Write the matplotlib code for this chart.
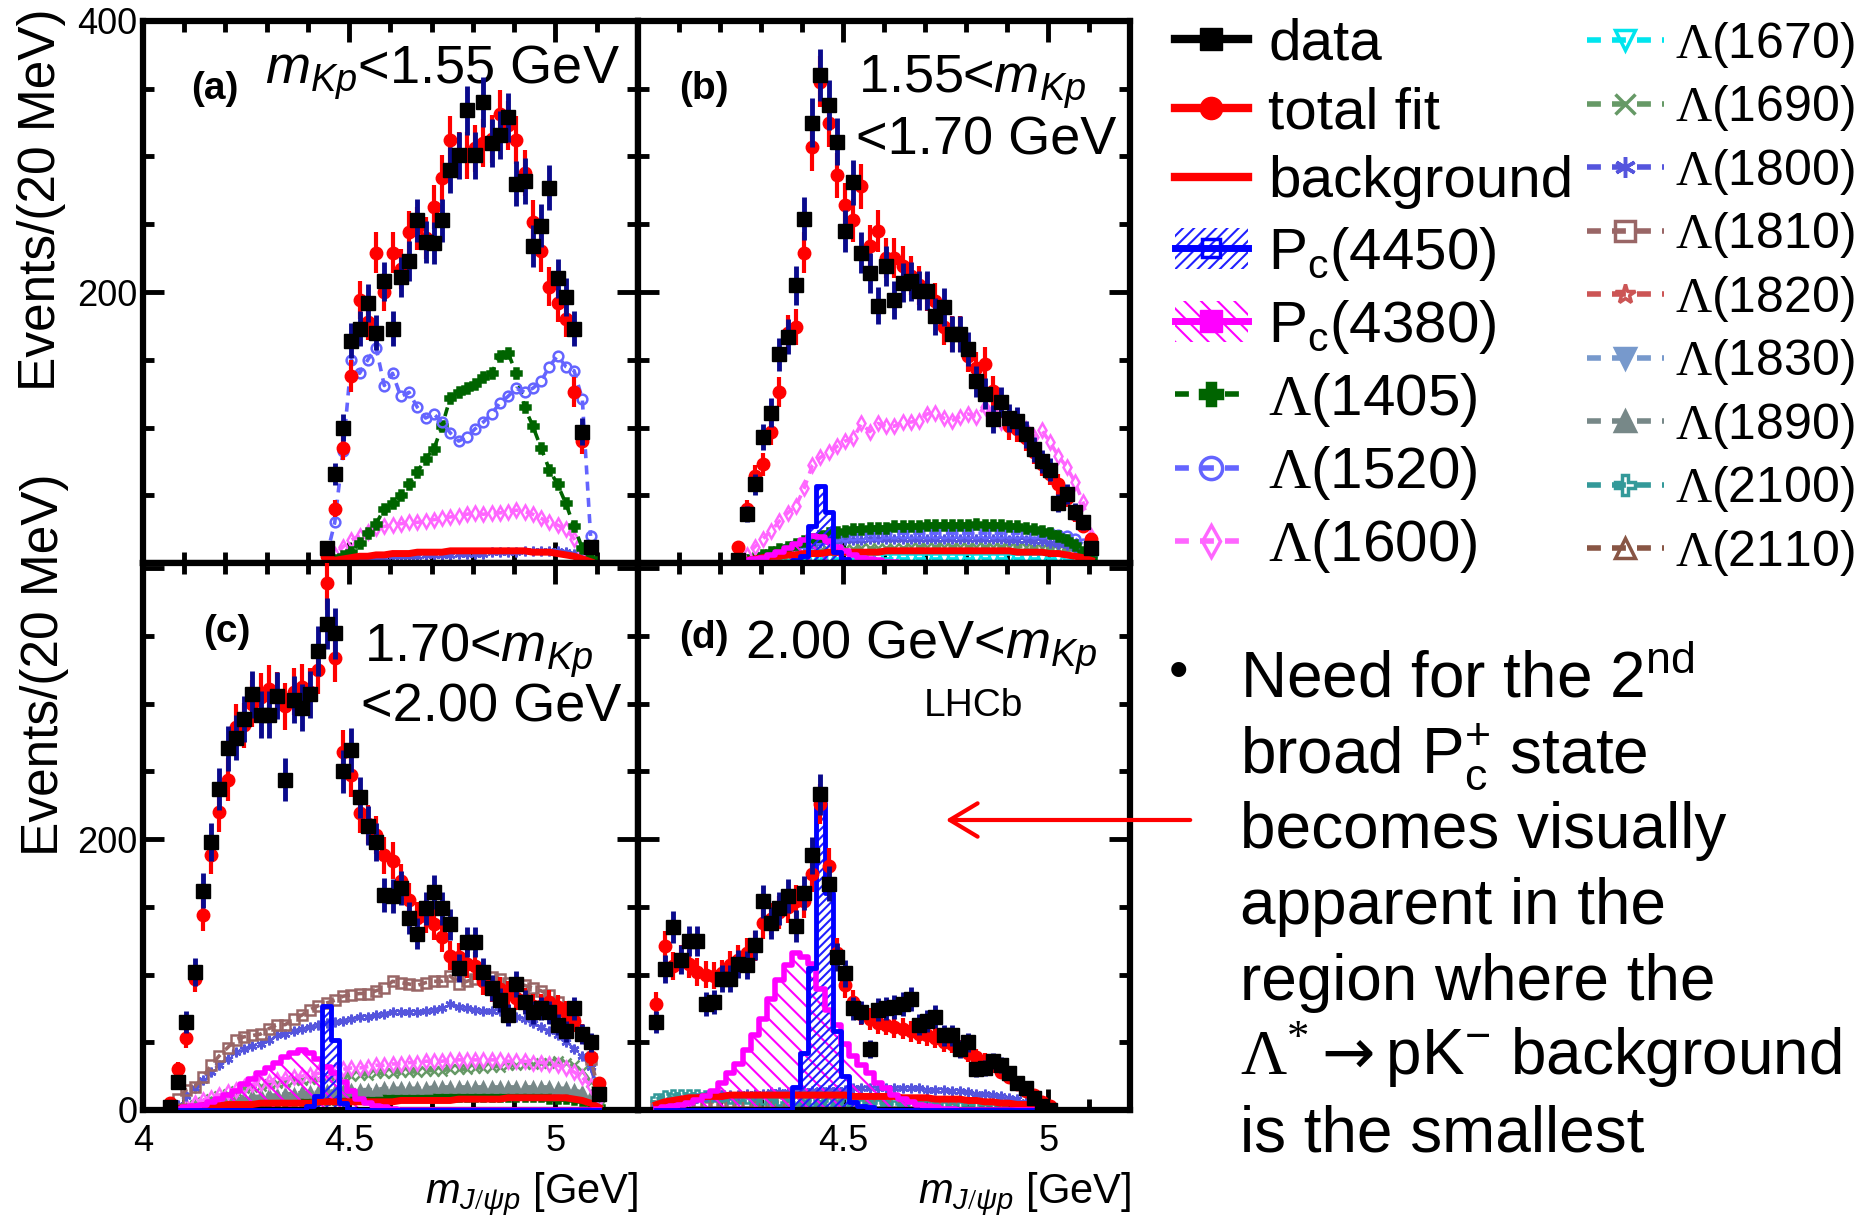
import numpy as np
import matplotlib
matplotlib.use('Agg')
import matplotlib.pyplot as plt
from matplotlib.lines import Line2D
from matplotlib.patches import Patch, FancyArrowPatch
from matplotlib.ticker import MultipleLocator

plt.rcParams['font.family'] = ['Liberation Sans', 'DejaVu Sans']
plt.rcParams['mathtext.fontset'] = 'custom'
plt.rcParams['mathtext.rm'] = 'Liberation Serif'
plt.rcParams['mathtext.it'] = 'Liberation Sans:italic'
plt.rcParams['mathtext.bf'] = 'Liberation Sans:bold'
plt.rcParams['mathtext.sf'] = 'DejaVu Sans'
plt.rcParams['hatch.linewidth'] = 1.5

BIN = 0.02  # 20 MeV bins

# ---- panel (a): m_Kp < 1.55 GeV, first bin centre 4.445 GeV
a_x0 = 4.445
a_data = [11, 66, 100, 164, 173, 192, 170, 208, 173, 211,
          223, 253, 237, 236, 253, 290, 301, 334, 301, 340,
          310, 316, 329, 280, 282, 234, 249, 277, 210, 196,
          173, 97, 12]
a_fit = [5, 40, 85, 138, 194, 178, 229, 200, 229, 217,
         244, 247, 240, 263, 284, 312, 301, 301, 306, 310,
         313, 331, 323, 312, 288, 252, 230, 204, 192, 180,
         126, 90, 12]
a_bkg = [1, 2, 3, 4, 5, 5, 6, 6, 7, 7,
         7, 8, 8, 8, 8, 9, 9, 9, 9, 9,
         9, 9, 9, 9, 9, 8, 8, 8, 7, 6,
         5, 3, 1]
a_L1405 = [0, 2, 5, 8, 15, 22, 29, 40, 44, 50,
           58, 67, 77, 84, 101, 122, 126, 129, 132, 137,
           140, 153, 155, 140, 115, 101, 85, 69, 58, 44,
           27, 11, 3]
a_L1520 = [5, 30, 83, 150, 140, 150, 159, 131, 140, 123,
           126, 115, 107, 110, 104, 96, 90, 93, 99, 104,
           110, 118, 123, 129, 126, 129, 134, 145, 153, 145,
           142, 121, 20]
a_L1600 = [2, 6, 12, 17, 20, 23, 26, 27, 28, 29,
           30, 30, 31, 32, 33, 34, 35, 36, 37, 36,
           37, 37, 38, 39, 38, 36, 33, 30, 28, 25,
           18, 8, 2]
a_L1800 = [0, 1, 2, 3, 3, 4, 4, 4, 5, 5,
           5, 5, 6, 6, 6, 6, 7, 7, 7, 7,
           8, 8, 8, 8, 9, 9, 9, 9, 9, 8,
           7, 5, 2]

# ---- panel (b): 1.55 < m_Kp < 1.70 GeV, first bin centre 4.245 GeV
b_x0 = 4.245
b_data = [2, 36, 58, 93, 111, 154, 167, 205, 254, 325,
          360, 338, 311, 245, 281, 229, 214, 190, 219, 194,
          207, 208, 201, 201, 182, 189, 169, 169, 158, 134,
          125, 106, 119, 107, 105, 95, 84, 75, 69, 44,
          51, 38, 30, 11]
b_fit = [12, 40, 64, 73, 97, 126, 170, 174, 229, 307,
         355, 325, 286, 264, 253, 278, 234, 245, 225, 225,
         219, 212, 205, 200, 193, 174, 169, 169, 153, 144,
         147, 127, 118, 101, 99, 92, 82, 73, 66, 58,
         48, 36, 27, 18]
b_bkg = [1, 2, 3, 4, 5, 5, 6, 6, 7, 7,
         7, 8, 8, 8, 8, 8, 8, 8, 9, 9,
         9, 9, 9, 9, 9, 9, 9, 9, 9, 9,
         9, 9, 9, 9, 8, 8, 8, 8, 7, 7,
         6, 5, 4, 2]
b_Pc4450 = [0, 0, 0, 0, 0, 0, 0, 2, 5, 27,
            57, 38, 8, 3, 1, 0, 0, 0, 0, 0,
            0, 0, 0, 0, 0, 0, 0, 0, 0, 0,
            0, 0, 0, 0, 0, 0, 0, 0, 0, 0,
            0, 0, 0, 0]
b_Pc4380 = [1, 2, 3, 4, 6, 8, 11, 14, 17, 20,
            19, 16, 12, 9, 6, 4, 3, 2, 1, 1,
            0, 0, 0, 0, 0, 0, 0, 0, 0, 0,
            0, 0, 0, 0, 0, 0, 0, 0, 0, 0,
            0, 0, 0, 0]
b_L1405 = [1, 2, 4, 6, 8, 10, 12, 14, 16, 18,
           20, 22, 23, 24, 25, 25, 26, 26, 26, 27,
           27, 27, 27, 28, 28, 28, 28, 28, 28, 29,
           28, 28, 28, 27, 27, 26, 25, 24, 22, 20,
           17, 13, 8, 3]
b_L1520 = [1, 2, 3, 5, 7, 9, 11, 13, 15, 17,
           18, 19, 20, 20, 21, 21, 21, 21, 22, 22,
           22, 22, 22, 22, 22, 22, 22, 22, 22, 22,
           22, 22, 22, 22, 22, 22, 22, 22, 22, 21,
           20, 18, 14, 6]
b_L1600 = [3, 6, 12, 18, 24, 31, 37, 42, 55, 72,
           78, 82, 86, 90, 92, 103, 97, 103, 101, 101,
           104, 104, 105, 110, 111, 107, 105, 108, 110, 108,
           115, 112, 104, 101, 104, 99, 93, 98, 89, 79,
           71, 60, 45, 20]
b_L1670 = [0, 0, 1, 1, 1, 2, 2, 2, 2, 3,
           3, 3, 3, 3, 3, 3, 3, 3, 3, 3,
           3, 3, 3, 3, 3, 3, 3, 3, 3, 3,
           3, 3, 3, 3, 3, 3, 3, 3, 3, 3,
           2, 2, 1, 1]
b_L1690 = [0, 1, 1, 2, 3, 4, 5, 6, 7, 8,
           9, 9, 10, 10, 10, 11, 11, 11, 11, 11,
           11, 12, 12, 12, 12, 12, 12, 12, 12, 12,
           12, 12, 12, 12, 12, 12, 11, 11, 11, 10,
           9, 8, 6, 3]
b_L1800 = [1, 2, 3, 4, 6, 8, 10, 12, 13, 14,
           15, 16, 16, 17, 17, 17, 18, 18, 18, 18,
           18, 18, 18, 18, 18, 18, 18, 18, 18, 18,
           18, 18, 18, 17, 17, 17, 16, 16, 15, 14,
           13, 11, 8, 4]

# ---- panel (c): 1.70 < m_Kp < 2.00 GeV, first bin centre 4.065 GeV
c_x0 = 4.065
c_data = [2, 21, 65, 102, 162, 198, 237, 267, 275, 289,
          307, 292, 292, 306, 244, 303, 297, 307, 339, 359,
          352, 250, 266, 231, 210, 198, 159, 158, 164, 142,
          130, 149, 161, 149, 137, 105, 124, 124, 102, 90,
          81, 70, 93, 80, 72, 75, 72, 63, 58, 75,
          56, 50, 12]
c_fit = [5, 30, 53, 97, 144, 188, 220, 244, 283, 284,
         300, 305, 311, 306, 298, 309, 312, 309, 325, 389,
         334, 264, 247, 219, 211, 203, 188, 184, 169, 155,
         142, 143, 137, 128, 114, 113, 108, 106, 95, 89,
         89, 86, 83, 81, 77, 77, 80, 76, 72, 66,
         56, 39, 20]
c_bkg = [1, 1, 2, 2, 3, 3, 3, 4, 4, 4,
         4, 5, 5, 5, 5, 5, 5, 5, 6, 6,
         6, 6, 6, 6, 6, 6, 6, 6, 7, 7,
         7, 7, 7, 7, 7, 8, 8, 8, 8, 8,
         8, 9, 9, 9, 9, 9, 9, 9, 9, 8,
         7, 5, 2]
c_Pc4450 = [0, 0, 0, 0, 0, 0, 0, 0, 0, 0,
            0, 0, 0, 0, 0, 0, 0, 3, 10, 77,
            52, 5, 1, 0, 0, 0, 0, 0, 0, 0,
            0, 0, 0, 0, 0, 0, 0, 0, 0, 0,
            0, 0, 0, 0, 0, 0, 0, 0, 0, 0,
            0, 0, 0]
c_Pc4380 = [0, 1, 2, 3, 4, 6, 8, 11, 14, 19,
            23, 27, 31, 35, 39, 42, 44, 42, 38, 32,
            27, 21, 14, 8, 5, 3, 2, 1, 0, 0,
            0, 0, 0, 0, 0, 0, 0, 0, 0, 0,
            0, 0, 0, 0, 0, 0, 0, 0, 0, 0,
            0, 0, 0]
c_L1405 = [0, 0, 1, 1, 2, 2, 3, 3, 4, 4,
           5, 5, 6, 6, 6, 7, 7, 7, 8, 8,
           8, 8, 9, 9, 9, 9, 9, 10, 10, 10,
           10, 10, 10, 10, 10, 10, 10, 10, 10, 10,
           10, 10, 10, 10, 10, 10, 9, 9, 9, 8,
           7, 5, 2]
c_L1600 = [0, 1, 3, 5, 7, 9, 11, 13, 15, 17,
           19, 20, 21, 22, 23, 24, 25, 26, 27, 28,
           29, 30, 31, 31, 32, 33, 33, 34, 34, 35,
           35, 36, 36, 36, 37, 37, 37, 37, 37, 37,
           37, 36, 36, 36, 35, 35, 34, 33, 31, 28,
           24, 18, 8]
c_L1690 = [0, 1, 2, 4, 6, 8, 10, 12, 14, 16,
           17, 18, 19, 20, 21, 22, 22, 23, 23, 24,
           24, 25, 25, 26, 26, 27, 27, 27, 28, 28,
           28, 29, 29, 29, 30, 30, 30, 31, 31, 32,
           32, 33, 33, 34, 34, 35, 35, 36, 35, 33,
           29, 21, 9]
c_L1800 = [1, 4, 10, 16, 22, 28, 33, 38, 43, 45,
           47, 49, 52, 55, 56, 58, 60, 61, 63, 64,
           65, 66, 67, 69, 69, 70, 71, 72, 72, 72,
           72, 73, 74, 75, 78, 76, 75, 74, 73, 73,
           73, 71, 69, 67, 64, 61, 58, 55, 50, 45,
           40, 32, 12]
c_L1810 = [2, 8, 15, 17, 24, 33, 40, 46, 52, 54,
           55, 56, 60, 63, 63, 67, 70, 74, 77, 79,
           81, 84, 85, 86, 86, 88, 90, 95, 94, 93,
           92, 94, 95, 95, 99, 93, 95, 97, 100, 98,
           97, 94, 93, 92, 90, 88, 85, 80, 73, 65,
           55, 38, 14]
c_L1890 = [0, 1, 2, 3, 4, 5, 6, 7, 8, 9,
           10, 10, 11, 11, 12, 12, 13, 13, 13, 14,
           14, 14, 15, 15, 15, 15, 16, 16, 16, 16,
           16, 16, 17, 17, 17, 17, 17, 17, 17, 17,
           17, 17, 17, 17, 17, 17, 17, 16, 16, 15,
           13, 10, 4]

# ---- panel (d): m_Kp > 2.00 GeV, first bin centre 4.045 GeV
d_x0 = 4.045
d_data = [65, 104, 135, 111, 125, 125, 78, 80, 97, 97,
          108, 107, 122, 154, 138, 149, 158, 136, 160, 188,
          233, 167, 113, 101, 75, 72, 45, 74, 75, 76,
          78, 82, 63, 66, 69, 55, 55, 45, 50, 30,
          31, 36, 33, 27, 20, 16, 9, 3, 0]
d_fit = [78, 121, 106, 111, 108, 102, 100, 99, 101, 107,
         111, 116, 121, 138, 141, 146, 150, 154, 154, 174,
         226, 180, 116, 92, 80, 71, 67, 64, 63, 61,
         60, 58, 56, 55, 53, 50, 49, 45, 42, 39,
         36, 33, 28, 24, 19, 14, 11, 6, 3]
d_bkg = [4, 6, 7, 8, 9, 9, 10, 10, 10, 11,
         11, 11, 11, 11, 11, 11, 11, 11, 11, 11,
         11, 11, 11, 11, 10, 10, 10, 10, 10, 10,
         9, 9, 9, 9, 8, 8, 8, 8, 7, 7,
         6, 6, 5, 5, 4, 4, 3, 2, 1]
d_Pc4450 = [0, 0, 0, 0, 0, 0, 0, 0, 0, 0,
            0, 0, 0, 0, 0, 0, 0, 17, 42, 105,
            227, 160, 58, 25, 6, 3, 2, 0, 0, 0,
            0, 0, 0, 0, 0, 0, 0, 0, 0, 0,
            0, 0, 0, 0, 0, 0, 0, 0, 0]
d_Pc4380 = [1, 2, 3, 4, 5, 7, 10, 14, 20, 27,
            34, 44, 55, 67, 82, 96, 107, 116, 113, 108,
            89, 74, 63, 49, 40, 33, 27, 20, 16, 11,
            8, 6, 4, 3, 2, 1, 1, 0, 0, 0,
            0, 0, 0, 0, 0, 0, 0, 0, 0]
d_L1800 = [2, 4, 6, 7, 8, 9, 10, 10, 11, 11,
           11, 12, 12, 12, 13, 13, 13, 14, 14, 14,
           15, 15, 15, 15, 16, 16, 16, 16, 16, 16,
           16, 16, 16, 15, 15, 15, 14, 14, 13, 12,
           12, 11, 10, 9, 8, 6, 4, 2, 1]
d_L1810 = [3, 4, 5, 5, 5, 6, 6, 6, 6, 6,
           6, 6, 6, 6, 6, 6, 6, 6, 6, 6,
           6, 6, 6, 6, 6, 6, 6, 6, 6, 6,
           6, 6, 6, 6, 5, 5, 5, 5, 5, 5,
           4, 4, 4, 3, 3, 3, 2, 1, 0]
d_L2100 = [8, 10, 11, 11, 11, 11, 10, 10, 10, 9,
           9, 9, 8, 8, 8, 7, 7, 7, 6, 6,
           6, 5, 5, 5, 5, 4, 4, 4, 4, 3,
           3, 3, 3, 3, 2, 2, 2, 2, 2, 2,
           1, 1, 1, 1, 1, 1, 1, 0, 0]

# legend labels
col1_labels = ['data', 'total fit', 'background', 'P$_\\mathregular{c}$(4450)',
               'P$_\\mathregular{c}$(4380)', '$\\Lambda$(1405)', '$\\Lambda$(1520)',
               '$\\Lambda$(1600)']
col2_names = ['L1670', 'L1690', 'L1800', 'L1810', 'L1820', 'L1830', 'L1890', 'L2100', 'L2110']

# styles for the Lambda* components
comp_style = {
    'L1405': dict(color='#006400', marker='P', mfc='#006400'),
    'L1520': dict(color='#6464ff', marker='o', mfc='none'),
    'L1600': dict(color='#ff66ff', marker='d', mfc='none'),
    'L1670': dict(color='#00e5ee', marker='v', mfc='none'),
    'L1690': dict(color='#669966', marker='x', mfc='#669966'),
    'L1800': dict(color='#5555dd', marker=(6, 2, 0), mfc='#5555dd'),
    'L1810': dict(color='#996666', marker='s', mfc='none'),
    'L1820': dict(color='#cc5555', marker='*', mfc='none'),
    'L1830': dict(color='#7799cc', marker='v', mfc='#7799cc'),
    'L1890': dict(color='#778888', marker='^', mfc='#778888'),
    'L2100': dict(color='#339999', marker='P', mfc='none'),
    'L2110': dict(color='#885544', marker='^', mfc='none'),
}
DASH = (0, (2.5, 2))


def draw_panel(ax, x0, data, fit, bkg, comps, pc4450=None, pc4380=None):
    x = x0 + BIN * np.arange(len(data))
    for name, vals in comps:
        st = comp_style[name]
        ax.plot(x, vals, ls=DASH, lw=2.6, ms=7, mew=1.8, zorder=2, **st)
    ax.plot(x, bkg, color='red', lw=5, zorder=3)
    if pc4380 is not None:
        ax.fill_between(x, 0, pc4380, step='mid', facecolor='none', edgecolor='#ff00ff',
                        hatch='\\\\', lw=0, zorder=2)
        ax.step(x, pc4380, where='mid', color='#ff00ff', lw=4, zorder=3)
    if pc4450 is not None:
        ax.fill_between(x, 0, pc4450, step='mid', facecolor='none', edgecolor='#2020ff',
                        hatch='////', lw=0, zorder=2)
        ax.step(x, pc4450, where='mid', color='#0000ff', lw=3.5, zorder=3)
    ax.errorbar(x, fit, yerr=np.sqrt(fit), fmt='o', color='red', ecolor='red',
                ms=9, elinewidth=3, capsize=0, zorder=4)
    ax.errorbar(x, data, yerr=np.sqrt(data), fmt='s', color='black', ecolor='#0a0a8c',
                ms=10, elinewidth=3.5, capsize=0, zorder=5)


def style_axes(ax, ytop):
    ax.set_xlim(4.0, 5.2)
    ax.set_ylim(0, ytop)
    ax.set_xticks([4.0, 4.5, 5.0])
    ax.set_yticks([0, 200, 400])
    ax.xaxis.set_minor_locator(MultipleLocator(0.1))
    ax.yaxis.set_minor_locator(MultipleLocator(50))
    ax.tick_params(which='both', direction='in', top=True, right=True, width=3.5,
                   labelsize=26)
    ax.tick_params(which='major', length=15)
    ax.tick_params(which='minor', length=8)
    ax.tick_params(axis='x', pad=10)
    ax.tick_params(axis='y', pad=4)
    for sp in ax.spines.values():
        sp.set_linewidth(4.5)


fig = plt.figure(figsize=(18.71, 12.20), dpi=100)
L, W1, W2 = 0.0764, 0.2646, 0.2630
ax_a = fig.add_axes([L, 0.5385, W1, 0.4443])
ax_b = fig.add_axes([L + W1, 0.5385, W2, 0.4443])
ax_c = fig.add_axes([L, 0.0902, W1, 0.4484])
ax_d = fig.add_axes([L + W1, 0.0902, W2, 0.4484])

draw_panel(ax_a, a_x0, a_data, a_fit, a_bkg,
           [('L1800', a_L1800), ('L1600', a_L1600), ('L1405', a_L1405), ('L1520', a_L1520)])
draw_panel(ax_b, b_x0, b_data, b_fit, b_bkg,
           [('L1670', b_L1670), ('L1690', b_L1690), ('L1800', b_L1800), ('L1520', b_L1520),
            ('L1405', b_L1405), ('L1600', b_L1600)],
           pc4450=b_Pc4450, pc4380=b_Pc4380)
draw_panel(ax_c, c_x0, c_data, c_fit, c_bkg,
           [('L1405', c_L1405), ('L1890', c_L1890), ('L1690', c_L1690), ('L1600', c_L1600),
            ('L1800', c_L1800), ('L1810', c_L1810)],
           pc4450=c_Pc4450, pc4380=c_Pc4380)
draw_panel(ax_d, d_x0, d_data, d_fit, d_bkg,
           [('L1810', d_L1810), ('L2100', d_L2100), ('L1800', d_L1800)],
           pc4450=d_Pc4450, pc4380=d_Pc4380)

style_axes(ax_a, 400)
style_axes(ax_b, 400)
style_axes(ax_c, 404)
style_axes(ax_d, 404)
ax_a.set_yticklabels(['', '200', '400'])
ax_c.set_yticklabels(['0', '200', ''])
ax_a.tick_params(labelbottom=False)
ax_b.tick_params(labelbottom=False, labelleft=False)
ax_d.tick_params(labelleft=False)
ax_c.set_xticklabels(['4', '4.5', '5'])
ax_d.set_xticklabels(['', '4.5', '5'])

# panel annotations
tk = dict(fontsize=39, va='baseline')
lab = dict(fontsize=28, fontweight='bold', ha='center', va='center')
ax_a.text(0.145, 0.874, '(a)', transform=ax_a.transAxes, **lab)
ax_a.text(0.246, 0.885, '$m_{Kp}$<1.55 GeV', transform=ax_a.transAxes, **tk)
ax_b.text(0.133, 0.874, '(b)', transform=ax_b.transAxes, **lab)
ax_b.text(0.448, 0.868, '1.55<$m_{Kp}$', transform=ax_b.transAxes, **tk)
ax_b.text(0.443, 0.753, '<1.70 GeV', transform=ax_b.transAxes, **tk)
ax_c.text(0.169, 0.873, '(c)', transform=ax_c.transAxes, **lab)
ax_c.text(0.446, 0.819, '1.70<$m_{Kp}$', transform=ax_c.transAxes, **tk)
ax_c.text(0.441, 0.710, '<2.00 GeV', transform=ax_c.transAxes, **tk)
ax_d.text(0.133, 0.862, '(d)', transform=ax_d.transAxes, **lab)
ax_d.text(0.218, 0.825, '2.00 GeV<$m_{Kp}$', transform=ax_d.transAxes, **tk)
ax_d.text(0.581, 0.738, 'LHCb', transform=ax_d.transAxes, fontsize=28, va='center')

# axis titles
fig.text(0.0224, 0.836, 'Events/(20 MeV)', rotation=90, fontsize=37, ha='center', va='center')
fig.text(0.024, 0.455, 'Events/(20 MeV)', rotation=90, fontsize=37, ha='center', va='center')
fig.text(0.341, 0.014, '$m_{J/\\psi p}$ [GeV]', fontsize=30, ha='right', va='baseline')
fig.text(0.6045, 0.014, '$m_{J/\\psi p}$ [GeV]', fontsize=30, ha='right', va='baseline')

# legend, first column
h1 = [Line2D([], [], color='black', lw=6, marker='s', ms=16),
      Line2D([], [], color='red', lw=6, marker='o', ms=16),
      Line2D([], [], color='red', lw=6),
      (Patch(facecolor='none', edgecolor='#2020ff', hatch='///', lw=0),
       Line2D([], [], color='#0000ff', lw=5, marker='s', ms=13, mfc='none', mew=2.5)),
      (Patch(facecolor='none', edgecolor='#ff00ff', hatch='\\\\', lw=0),
       Line2D([], [], color='#ff00ff', lw=5, marker='s', ms=16))]
for name in ['L1405', 'L1520', 'L1600']:
    h1.append(Line2D([], [], ls=DASH, lw=4, ms=16, mew=2.5, **comp_style[name]))
fig.legend(h1, col1_labels, loc='upper left', bbox_to_anchor=(0.628, 0.986), frameon=False,
           fontsize=42, handlelength=1.25, handletextpad=0.35, labelspacing=0.26,
           borderpad=0, borderaxespad=0)

# legend, second column
h2 = [Line2D([], [], ls=DASH, lw=4, ms=15, mew=2.5, **comp_style[n]) for n in col2_names]
col2_labels = ['$\\Lambda$(' + n[1:] + ')' for n in col2_names]
fig.legend(h2, col2_labels, loc='upper left', bbox_to_anchor=(0.848, 0.984), frameon=False,
           fontsize=36, handlelength=1.55, handletextpad=0.22, labelspacing=0.27,
           borderpad=0, borderaxespad=0)

# comment text
lines = ['Need for the 2$^\\mathregular{nd}$',
         'broad P$_\\mathregular{c}^\\mathregular{+}$ state',
         'becomes visually',
         'apparent in the',
         'region where the',
         '$\\Lambda^{*}\\mathsf{\\rightarrow}$pK$^\\mathregular{-}$ background',
         'is the smallest']
fig.text(0.630, 1 - 674 / 1220, '\u2022', fontsize=40, ha='center', va='center')
for i, s in enumerate(lines):
    fig.text(0.663, 1 - (697 + 75.7 * i) / 1220, s, fontsize=46, va='baseline')

fig.add_artist(FancyArrowPatch((1193 / 1871, 1 - 820 / 1220), (943 / 1871, 1 - 820 / 1220),
                               transform=fig.transFigure, color='red', lw=3,
                               arrowstyle='->,head_length=0.5,head_width=0.3',
                               mutation_scale=40))

fig.savefig('out.png', dpi=100)
